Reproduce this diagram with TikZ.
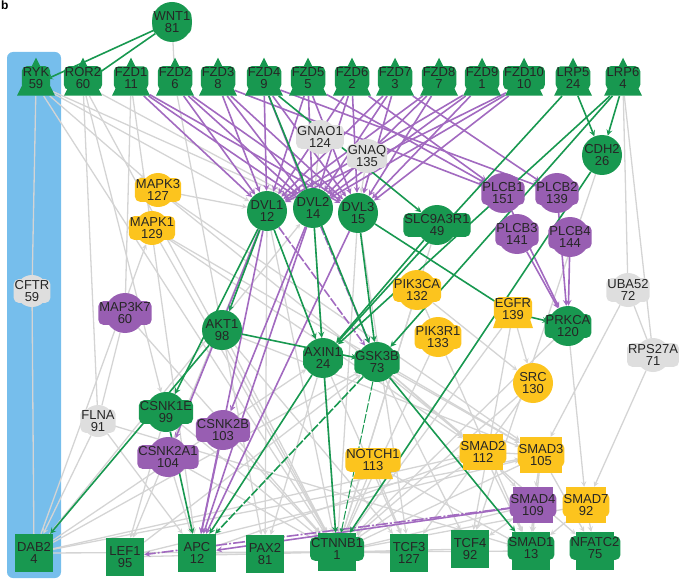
\documentclass[tikz,border=0pt]{standalone}
\usepackage{fontspec}
\setmainfont{Liberation Sans}
\usetikzlibrary{shapes.geometric}
\definecolor{nodegreen}{RGB}{24,152,80}
\definecolor{nodepurple}{RGB}{152,94,178}
\definecolor{nodeyellow}{RGB}{252,196,30}
\definecolor{nodegray}{RGB}{222,222,222}
\definecolor{edgegray}{RGB}{212,212,212}
\definecolor{edgepurple}{RGB}{162,106,192}
\definecolor{groupblue}{RGB}{118,190,236}
\pgfdeclarelayer{bg}
\pgfdeclarelayer{edges}
\pgfsetlayers{bg,edges,main}

\begin{document}
\begin{tikzpicture}[x=1pt,y=-1pt,font=\fontsize{13}{12.5}\selectfont]

%
% Styles
%
\tikzstyle{gene}  = [circle, inner sep=0pt, minimum size=40pt]
\tikzstyle{rec}   = [isosceles triangle, isosceles triangle stretches, shape border rotate=90, minimum width=38pt, minimum height=38pt, inner sep=0pt]
\tikzstyle{tf}    = [rectangle, inner sep=0pt, minimum size=38pt, align=center, text=black!85]
\tikzstyle{smadbox} = [rectangle, inner sep=0pt, minimum width=40pt, minimum height=36pt]
\tikzstyle{capshape} = [trapezium, trapezium stretches=true, trapezium left angle=62, trapezium right angle=62, inner sep=2pt, minimum width=40pt, minimum height=30pt]
\tikzstyle{tag}   = [rounded corners=5pt, inner sep=1pt, align=center, text=black!85]
\tikzstyle{gtag}  = [tag, fill=nodegreen]
\tikzstyle{rtag}  = [gtag, yshift=6pt]
\tikzstyle{ptag}  = [tag, fill=nodepurple]
\tikzstyle{ytag}  = [tag, fill=nodeyellow]
\tikzstyle{ntag}  = [tag, fill=nodegray]

\tikzstyle{gline}  = [edgegray, line width=1.3pt]
\tikzstyle{gedge}  = [->, >=stealth, edgegray, line width=1.3pt]
\tikzstyle{pedge}  = [->, >=stealth, edgepurple, line width=1.6pt]
\tikzstyle{gredge} = [->, >=stealth, nodegreen, line width=1.6pt]

\useasboundingbox (0,0) rectangle (685,580);
\begin{pgfonlayer}{bg}
\fill[groupblue, rounded corners=6pt] (7,52) rectangle (61,578);
\end{pgfonlayer}

\node[font=\bfseries\fontsize{12}{12}\selectfont, anchor=north west, inner sep=1pt] (panel) at (0,0) {b};

% ligand and receptors
\node[gene, fill=nodegreen, label={[gtag]center:{WNT1\\81}}] (wnt1) at (172,22) {};
\node[rec, fill=nodegreen, label={[rtag]center:{RYK\\59}}]    (ryk)   at (36,84) {};
\node[rec, fill=nodegreen, label={[rtag]center:{ROR2\\60}}]   (ror2)  at (83,84) {};
\node[rec, fill=nodegreen, label={[rtag]center:{FZD1\\11}}]   (fzd1)  at (131,84) {};
\node[rec, fill=nodegreen, label={[rtag]center:{FZD2\\6}}]    (fzd2)  at (175,84) {};
\node[rec, fill=nodegreen, label={[rtag]center:{FZD3\\8}}]    (fzd3)  at (218,84) {};
\node[rec, fill=nodegreen, label={[rtag]center:{FZD4\\9}}]    (fzd4)  at (264,84) {};
\node[rec, fill=nodegreen, label={[rtag]center:{FZD5\\5}}]    (fzd5)  at (308,84) {};
\node[rec, fill=nodegreen, label={[rtag]center:{FZD6\\2}}]    (fzd6)  at (352,84) {};
\node[rec, fill=nodegreen, label={[rtag]center:{FZD7\\3}}]    (fzd7)  at (395,84) {};
\node[rec, fill=nodegreen, label={[rtag]center:{FZD8\\7}}]    (fzd8)  at (439,84) {};
\node[rec, fill=nodegreen, label={[rtag]center:{FZD9\\1}}]    (fzd9)  at (482,84) {};
\node[rec, fill=nodegreen, label={[rtag]center:{FZD10\\10}}]  (fzd10) at (524,84) {};
\node[rec, fill=nodegreen, label={[rtag]center:{LRP5\\24}}]   (lrp5)  at (573,84) {};
\node[rec, fill=nodegreen, label={[rtag]center:{LRP6\\4}}]    (lrp6)  at (623,84) {};

% middle
\node[gene, fill=nodegray, minimum size=34pt, label={[ntag]center:{GNAO1\\124}}] (gnao1) at (320,137) {};
\node[gene, fill=nodegray, minimum size=34pt, label={[ntag]center:{GNAQ\\135}}]  (gnaq)  at (367,156) {};
\node[gene, fill=nodegreen, label={[gtag]center:{CDH2\\26}}]      (cdh2)   at (602,155) {};
\node[gene, fill=nodeyellow, minimum size=34pt, label={[ytag]center:{MAPK3\\127}}] (mapk3) at (158,190) {};
\node[gene, fill=nodeyellow, minimum size=34pt, label={[ytag]center:{MAPK1\\129}}] (mapk1) at (152,228) {};
\node[gene, fill=nodegreen, label={[gtag]center:{DVL1\\12}}]      (dvl1)   at (267,211) {};
\node[gene, fill=nodegreen, label={[gtag]center:{DVL2\\14}}]      (dvl2)   at (313,208) {};
\node[gene, fill=nodegreen, label={[gtag]center:{DVL3\\15}}]      (dvl3)   at (358,213) {};
\node[gene, fill=nodegreen, label={[gtag]center:{SLC9A3R1\\49}}]  (slc)    at (437,225) {};
\node[gene, fill=nodepurple, label={[ptag]center:{PLCB1\\151}}]   (plcb1)  at (503,193) {};
\node[gene, fill=nodepurple, label={[ptag]center:{PLCB2\\139}}]   (plcb2)  at (557,193) {};
\node[gene, fill=nodepurple, label={[ptag]center:{PLCB3\\141}}]   (plcb3)  at (517,234) {};
\node[gene, fill=nodepurple, label={[ptag]center:{PLCB4\\144}}]   (plcb4)  at (570,237) {};
\node[gene, fill=nodegray, minimum size=32pt, label={[ntag]center:{CFTR\\59}}] (cftr) at (32,291) {};
\node[gene, fill=nodepurple, label={[ptag]center:{MAP3K7\\60}}]   (map3k7) at (125,313) {};
\node[gene, fill=nodegreen, label={[gtag]center:{AKT1\\98}}]      (akt1)   at (222,330) {};
\node[gene, fill=nodeyellow, label={[ytag]center:{PIK3CA\\132}}]  (pik3ca) at (417,290) {};
\node[capshape, fill=nodeyellow, label={[ytag, yshift=4pt]center:{EGFR\\139}}] (egfr) at (513,313) {};
\node[gene, fill=nodegreen, label={[gtag]center:{PRKCA\\120}}]    (prkca)  at (568,326) {};
\node[gene, fill=nodegray, minimum size=34pt, label={[ntag]center:{UBA52\\72}}]  (uba52)  at (628,290) {};
\node[gene, fill=nodeyellow, label={[ytag]center:{PIK3R1\\133}}]  (pik3r1) at (438,337) {};
\node[gene, fill=nodegreen, label={[gtag]center:{AXIN1\\24}}]     (axin1)  at (323,358) {};
\node[gene, fill=nodegreen, label={[gtag]center:{GSK3B\\73}}]     (gsk3b)  at (377,362) {};
\node[gene, fill=nodegray, minimum size=34pt, label={[ntag]center:{RPS27A\\71}}] (rps27a) at (653,355) {};
\node[gene, fill=nodeyellow, label={[ytag]center:{SRC\\130}}]     (src)    at (533,383) {};
\node[gene, fill=nodegreen, label={[gtag]center:{CSNK1E\\99}}]    (csnk1e) at (166,412) {};
\node[gene, fill=nodegray, minimum size=32pt, label={[ntag]center:{FLNA\\91}}] (flna) at (98,421) {};
\node[gene, fill=nodepurple, label={[ptag]center:{CSNK2B\\103}}]  (csnk2b) at (223,430) {};
\node[smadbox, fill=nodeyellow, label={[ytag]center:{SMAD2\\112}}] (smad2)  at (483,452) {};
\node[smadbox, fill=nodeyellow, minimum width=42pt, label={[ytag]center:{SMAD3\\105}}] (smad3) at (541,455) {};
\node[gene, fill=nodepurple, label={[ptag]center:{CSNK2A1\\104}}] (csnk2a1) at (168,457) {};
\node[capshape, fill=nodeyellow, label={[ytag, yshift=4pt]center:{NOTCH1\\113}}] (notch1) at (373,464) {};
\node[smadbox, fill=nodepurple, label={[ptag]center:{SMAD4\\109}}] (smad4) at (533,505) {};
\node[smadbox, fill=nodeyellow, label={[ytag]center:{SMAD7\\92}}]  (smad7) at (586,505) {};

% targets
\node[tf, fill=nodegreen] (dab2)   at (34,553)  {DAB2\\4};
\node[tf, fill=nodegreen] (lef1)   at (125,557) {LEF1\\95};
\node[tf, fill=nodegreen] (apc)    at (197,553) {APC\\12};
\node[tf, fill=nodegreen] (pax2)   at (265,554) {PAX2\\81};
\node[tf, fill=nodegreen, label={[gtag, yshift=3pt]center:{CTNNB1\\1}}] (ctnnb1) at (337,552) {};
\node[tf, fill=nodegreen] (tcf3)   at (409,553) {TCF3\\127};
\node[tf, fill=nodegreen] (tcf4)   at (470,549) {TCF4\\92};
\node[tf, fill=nodegreen, label={[gtag, yshift=3pt]center:{SMAD1\\13}}] (smad1) at (531,551) {};
\node[tf, fill=nodegreen, label={[gtag, yshift=3pt]center:{NFATC2\\75}}] (nfatc2) at (595,551) {};

\begin{pgfonlayer}{edges}
% grey links
\foreach \a/\b in {ryk/cftr, cftr/dab2, wnt1/fzd2, lrp6/uba52, lrp6/rps27a, uba52/rps27a,
  map3k7/flna, ror2/flna, fzd1/map3k7, pik3ca/pik3r1, smad2/smad3}
  \draw[gline] (\a) -- (\b);
\foreach \a/\b in {ryk/dvl1, ryk/dvl2, ryk/ctnnb1, ryk/mapk3, ror2/dvl2, ror2/csnk1e, ror2/ctnnb1,
  fzd1/apc, fzd2/pax2, mapk3/smad2, mapk3/smad3, mapk1/smad2, mapk1/smad3, mapk1/ctnnb1, mapk3/dvl1,
  flna/dab2, flna/apc, flna/smad1, map3k7/ctnnb1,
  dvl1/pax2, dvl1/ctnnb1, dvl2/ctnnb1, dvl3/ctnnb1, dvl3/tcf3, dvl1/lef1, gnao1/dvl2, gnaq/dvl3,
  akt1/ctnnb1, akt1/smad3, akt1/tcf3, csnk1e/ctnnb1, csnk2b/ctnnb1, csnk2a1/ctnnb1, csnk2a1/apc, csnk1e/lef1,
  dab2/dvl2, dab2/axin1, dab2/gsk3b, dab2/smad2, dab2/smad3, dab2/ctnnb1, dab2/mapk1,
  lef1/ctnnb1, lef1/smad3, lef1/gsk3b, apc/ctnnb1, apc/smad2,
  pik3ca/src, pik3ca/ctnnb1, pik3r1/ctnnb1, pik3r1/smad1, egfr/src, egfr/ctnnb1, egfr/tcf4,
  src/ctnnb1, src/tcf3, prkca/ctnnb1, prkca/smad7,
  gsk3b/smad2, gsk3b/smad3, gsk3b/nfatc2, gsk3b/tcf4, axin1/tcf3, axin1/pax2,
  notch1/ctnnb1, notch1/tcf3, notch1/smad1,
  smad2/ctnnb1, smad3/ctnnb1, smad4/ctnnb1, smad7/ctnnb1, smad2/smad4, smad3/smad4,
  smad2/smad1, smad3/smad1, smad4/smad1, smad7/smad1, smad3/nfatc2, smad7/nfatc2, smad4/tcf4,
  uba52/smad3, rps27a/smad7, tcf3/ctnnb1, tcf4/ctnnb1, smad1/ctnnb1, slc/ctnnb1, cdh2/tcf4}
  \draw[gedge] (\a) -- (\b);

% purple links
\foreach \f in {fzd1,fzd2,fzd3,fzd4,fzd5,fzd6,fzd7,fzd8,fzd9,fzd10}
  \foreach \d in {dvl1,dvl2,dvl3}
    \draw[pedge] (\f) -- (\d);
\foreach \a/\b in {fzd3/plcb1, fzd5/plcb1, fzd6/plcb1, fzd4/plcb2, fzd7/plcb2,
  plcb1/prkca, plcb2/prkca, plcb3/prkca, plcb4/prkca,
  dvl1/apc, dvl2/apc, dvl3/apc, csnk2b/apc, dvl2/csnk2b, dvl1/csnk2a1, smad4/apc}
  \draw[pedge] (\a) -- (\b);
\draw[pedge, dash pattern=on 9pt off 2pt] (dvl1) -- (gsk3b);
\draw[pedge, dash pattern=on 9pt off 2pt] (dvl2) -- (gsk3b);
\draw[pedge, dash pattern=on 12pt off 2pt on 2pt off 2pt] (smad4) -- (lef1);

% green links
\foreach \a/\b in {wnt1/ryk, wnt1/ror2, lrp5/cdh2, lrp6/cdh2, cdh2/ctnnb1, lrp5/axin1, lrp6/axin1,
  lrp6/gsk3b, fzd4/slc, fzd4/gsk3b, slc/axin1, dvl3/egfr, egfr/prkca, akt1/dab2, csnk1e/apc,
  axin1/apc, axin1/ctnnb1, gsk3b/smad1, dvl1/csnk1e, dvl1/axin1, dvl2/axin1, dvl3/gsk3b,
  akt1/gsk3b, dvl1/akt1}
  \draw[gredge] (\a) -- (\b);
\draw[gredge, dash pattern=on 9pt off 2pt] (gsk3b) -- (apc);
\draw[gredge, line width=1pt, dash pattern=on 9pt off 2pt] (gsk3b) -- (ctnnb1);
\end{pgfonlayer}

\end{tikzpicture}
\end{document}
